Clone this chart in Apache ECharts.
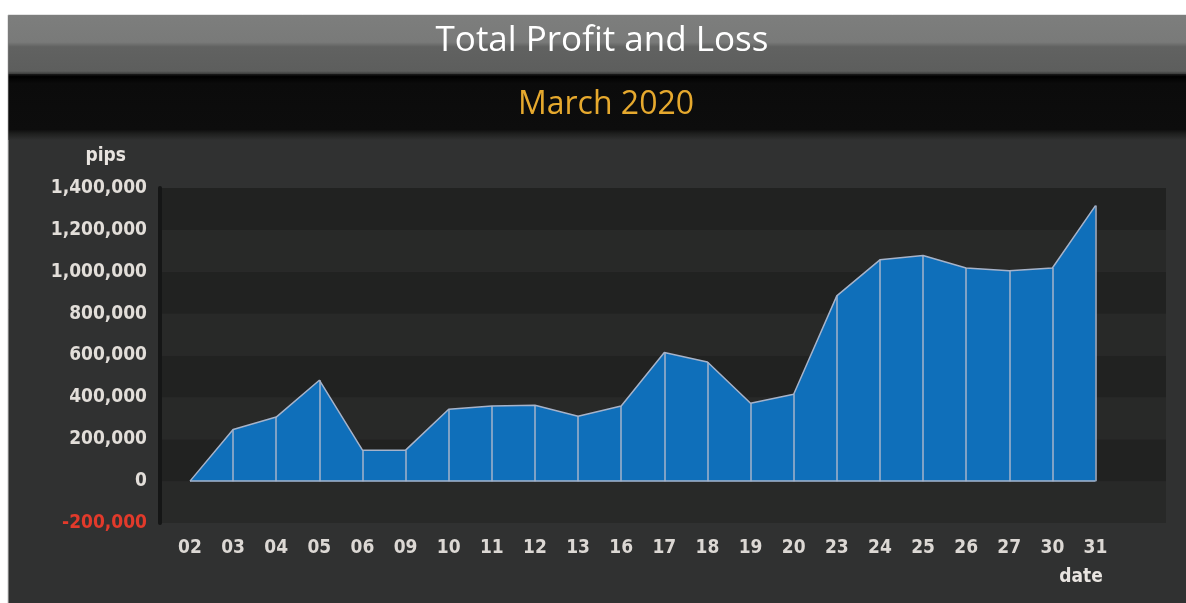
<!DOCTYPE html>
<html>
<head>
<meta charset="utf-8">
<title>Total Profit and Loss</title>
<script src="https://cdn.jsdelivr.net/npm/echarts@6/dist/echarts.min.js"></script>
<style>
	html, body {margin: 0; padding: 0; background: #ffffff;}
	#pnl-report {width: 1186px; height: 603px;}
</style>
</head>
<body>
<div id="pnl-report"></div>
<script>
// trading days of March 2020
var dates = ['02','03','04','05','06','09','10','11','12','13','16','17','18','19','20','23','24','25','26','27','30','31'];
// cumulative profit/loss in pips
var pips = [0, 247000, 306000, 482000, 148000, 148000, 343000, 359000, 362000, 310000, 359000,
	614000, 569000, 372000, 415000, 885000, 1057000, 1078000, 1018000, 1005000, 1018000, 1316000];
// y axis ticks
var y_ticks = [-200000, 0, 200000, 400000, 600000, 800000, 1000000, 1200000, 1400000];

var PNL = {
	CHART_ID: 'pnl-report',
	LABEL_FONT: '"DejaVu Sans Condensed", "DejaVu Sans", sans-serif',
	TITLE_FONT: '"Open Sans", "Noto Sans", sans-serif',
	LINE_COLOR: '#a6b3ca',

	ini: function(){
		var chart = echarts.init(document.getElementById(this.CHART_ID));
		chart.setOption(this.getOption());
	},
	getDropLines: function(){
		//one vertical line from zero up to each point
		var lines = [];
		for(var i = 0; i < dates.length; i++){
			lines.push([{coord: [dates[i], 0]}, {coord: [dates[i], pips[i]]}]);
		}
		lines.push({yAxis: 0});
		return lines;
	},
	getOption: function(){
		var me = this;
		var y_min = y_ticks[0];
		var y_max = y_ticks[y_ticks.length - 1];
		var y_step = y_ticks[1] - y_ticks[0];

		return {
			animation: false,
			backgroundColor: '#ffffff',
			//frame and title bands
			graphic: [
				{type: 'rect', z: -10, shape: {x: 8, y: 15, width: 1200, height: 620},
					style: {fill: '#303131', stroke: '#c8c8c8', lineWidth: 1}},
				{type: 'rect', z: -9, shape: {x: 8.5, y: 15, width: 1200, height: 59},
					style: {fill: new echarts.graphic.LinearGradient(0, 0, 0, 1, [
						{offset: 0, color: '#7d7e7d'},
						{offset: 0.46, color: '#797a79'},
						{offset: 0.54, color: '#616261'},
						{offset: 0.95, color: '#5d5e5d'},
						{offset: 1, color: '#3a3b3a'}
					])}},
				{type: 'rect', z: -9, shape: {x: 8.5, y: 74, width: 1200, height: 66},
					style: {fill: new echarts.graphic.LinearGradient(0, 0, 0, 1, [
						{offset: 0, color: '#1c1c1c'},
						{offset: 0.04, color: '#000000'},
						{offset: 0.14, color: '#0b0b0b'},
						{offset: 0.84, color: '#0d0d0d'},
						{offset: 0.9, color: '#1d1e1d'},
						{offset: 1, color: '#303131'}
					])}},
				//x axis name, under the last label
				{type: 'text', x: 1081, y: 577, z: 10,
					style: {text: 'date', align: 'center', verticalAlign: 'middle', fill: '#e8e4e0',
						font: 'bold 19px ' + me.LABEL_FONT}}
			],
			title: [
				{text: 'Total Profit and Loss', left: 602, top: 24, textAlign: 'center', padding: 0,
					textStyle: {color: '#ffffff', fontFamily: me.TITLE_FONT, fontSize: 35, fontWeight: 'normal'}},
				{text: 'March 2020', left: 606, top: 89, textAlign: 'center', padding: 0,
					textStyle: {color: '#e6a92e', fontFamily: me.TITLE_FONT, fontSize: 32, fontWeight: 'normal'}}
			],
			grid: [
				{left: 160, right: 20, top: 188, bottom: 80},
				{left: 190, right: 90.5, top: 188, bottom: 80}
			],
			xAxis: [
				{gridIndex: 0, type: 'value', show: false},
				{
					gridIndex: 1,
					type: 'category',
					data: dates,
					boundaryGap: false,
					axisLine: {show: false},
					axisTick: {show: false},
					axisLabel: {interval: 0, margin: 16, color: '#dcd8d4',
						fontFamily: me.LABEL_FONT, fontWeight: 'bold', fontSize: 19}
				}
			],
			yAxis: [
				{
					gridIndex: 0,
					type: 'value',
					min: y_min,
					max: y_max,
					interval: y_step,
					name: 'pips',
					nameLocation: 'end',
					nameGap: 22,
					nameTextStyle: {align: 'right', padding: [0, 34, 0, 0],
						color: '#e8e4e0', fontFamily: me.LABEL_FONT, fontWeight: 'bold', fontSize: 19},
					axisLine: {show: true, lineStyle: {color: '#151616', width: 4}},
					axisTick: {show: false},
					splitLine: {show: false},
					splitArea: {show: true, areaStyle: {color: ['#282928', '#212221']}},
					axisLabel: {
						margin: 13,
						fontFamily: me.LABEL_FONT,
						fontWeight: 'bold',
						fontSize: 19,
						formatter: function(v){
							return Number(v).toLocaleString('en-US');
						},
						color: function(v){
							return Number(v) < 0 ? '#e23a2b' : '#e2ded9';
						}
					}
				},
				{gridIndex: 1, type: 'value', min: y_min, max: y_max, interval: y_step, show: false}
			],
			series: [
				{
					type: 'line',
					xAxisIndex: 1,
					yAxisIndex: 1,
					data: pips,
					symbol: 'none',
					silent: true,
					lineStyle: {color: me.LINE_COLOR, width: 1.5},
					areaStyle: {color: '#0f6fba', opacity: 1},
					markLine: {
						silent: true,
						symbol: ['none', 'none'],
						label: {show: false},
						emphasis: {disabled: true},
						lineStyle: {color: me.LINE_COLOR, width: 1.5, type: 'solid'},
						data: me.getDropLines()
					}
				}
			]
		};
	}
};

PNL.ini();
</script>
</body>
</html>
